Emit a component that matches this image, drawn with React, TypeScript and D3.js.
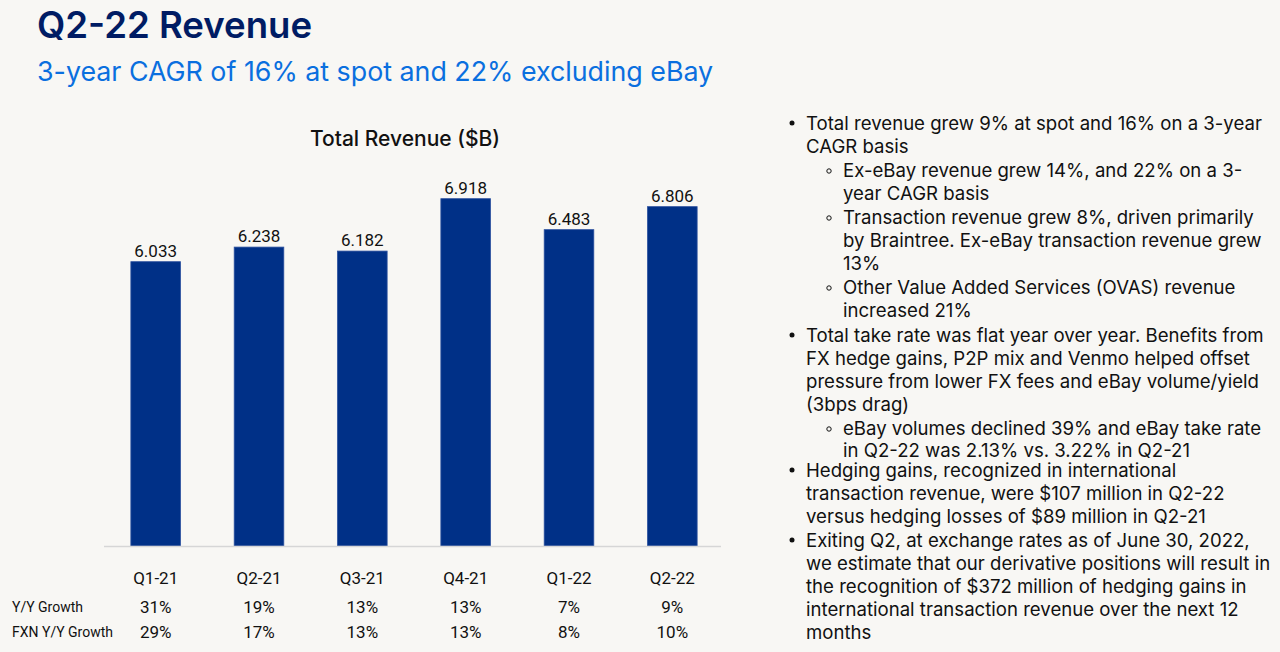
import React from "react";
import * as d3 from "d3";

const categories = ["Q1-21", "Q2-21", "Q3-21", "Q4-21", "Q1-22", "Q2-22"];
const revenue = [6.033, 6.238, 6.182, 6.918, 6.483, 6.806];
const yoyGrowth = ["31%", "19%", "13%", "13%", "7%", "9%"];
const fxnGrowth = ["29%", "17%", "13%", "13%", "8%", "10%"];
const rowLabels = ["Y/Y Growth", "FXN Y/Y Growth"];

const bulletLines: { level: number; bullet: boolean; text: string }[] = [
  { level: 0, bullet: true, text: "Total revenue grew 9% at spot and 16% on a 3-year" },
  { level: 0, bullet: false, text: "CAGR basis" },
  { level: 1, bullet: true, text: "Ex-eBay revenue grew 14%, and 22% on a 3-" },
  { level: 1, bullet: false, text: "year CAGR basis" },
  { level: 1, bullet: true, text: "Transaction revenue grew 8%, driven primarily" },
  { level: 1, bullet: false, text: "by Braintree. Ex-eBay transaction revenue grew" },
  { level: 1, bullet: false, text: "13%" },
  { level: 1, bullet: true, text: "Other Value Added Services (OVAS) revenue" },
  { level: 1, bullet: false, text: "increased 21%" },
  { level: 0, bullet: true, text: "Total take rate was flat year over year. Benefits from" },
  { level: 0, bullet: false, text: "FX hedge gains, P2P mix and Venmo helped offset" },
  { level: 0, bullet: false, text: "pressure from lower FX fees and eBay volume/yield" },
  { level: 0, bullet: false, text: "(3bps drag)" },
  { level: 1, bullet: true, text: "eBay volumes declined 39% and eBay take rate" },
  { level: 1, bullet: false, text: "in Q2-22 was 2.13% vs. 3.22% in Q2-21" },
  { level: 0, bullet: true, text: "Hedging gains, recognized in international" },
  { level: 0, bullet: false, text: "transaction revenue, were $107 million in Q2-22" },
  { level: 0, bullet: false, text: "versus hedging losses of $89 million in Q2-21" },
  { level: 0, bullet: true, text: "Exiting Q2, at exchange rates as of June 30, 2022," },
  { level: 0, bullet: false, text: "we estimate that our derivative positions will result in" },
  { level: 0, bullet: false, text: "the recognition of $372 million of hedging gains in" },
  { level: 0, bullet: false, text: "international transaction revenue over the next 12" },
  { level: 0, bullet: false, text: "months" },
];
const lineYs = [123, 146, 170, 193, 217, 240, 263, 287, 310, 335, 358, 381, 404, 428, 450, 470, 493, 516, 540, 563, 586, 609, 632];

const W = 1280;
const H = 652;
const FONT = "Inter, 'Open Sans', sans-serif";
const NUMFONT = "Roboto, 'Liberation Sans', sans-serif";

export default function App() {
  const baseline = 546;
  const x = d3.scaleBand<string>().domain(categories).range([104, 724]).paddingInner(0.52).paddingOuter(0.26);
  const y = d3.scaleLinear().domain([2.04, 7]).range([baseline, baseline - 71.2 * 4.96]);

  return (
    <svg width={W} height={H} style={{ position: "absolute", left: 0, top: 0, display: "block" }} fontFamily={FONT}>
      <rect width={W} height={H} fill="#f8f7f4" />
      <text x={37} y={38} fontSize={36.6} fontWeight={600} fill="#001c64">Q2-22 Revenue</text>
      <text x={37} y={81} fontSize={26.8} fill="#0a6fdf">3-year CAGR of 16% at spot and 22% excluding eBay</text>

      <text x={405} y={146} fontSize={21} fontWeight={500} fill="#111" textAnchor="middle">Total Revenue ($B)</text>

      {categories.map((c, i) => {
        const bx = x(c)!;
        const top = y(revenue[i]);
        const cx = bx + x.bandwidth() / 2;
        return (
          <g key={c}>
            <rect x={bx} y={top} width={x.bandwidth()} height={baseline - top} fill="#003087" stroke="#2a4f9e" strokeWidth={0.8} />
            <text x={cx} y={top - 5} fontSize={17} fontFamily={NUMFONT} fill="#111" textAnchor="middle">{d3.format(".3f")(revenue[i])}</text>
            <text x={cx} y={584} fontSize={17} fontFamily={NUMFONT} fill="#111" textAnchor="middle">{c}</text>
            <text x={cx} y={613} fontSize={17} fontFamily={NUMFONT} fill="#111" textAnchor="middle">{yoyGrowth[i]}</text>
            <text x={cx} y={638} fontSize={17} fontFamily={NUMFONT} fill="#111" textAnchor="middle">{fxnGrowth[i]}</text>
          </g>
        );
      })}
      <line x1={104} x2={721} y1={baseline + 0.5} y2={baseline + 0.5} stroke="#d6d6d6" strokeWidth={1.5} />
      <text x={12} y={612} fontSize={14} fontFamily={NUMFONT} fill="#111">{rowLabels[0]}</text>
      <text x={12} y={637} fontSize={14} fontFamily={NUMFONT} fill="#111">{rowLabels[1]}</text>

      {bulletLines.map((l, i) => {
        const ty = lineYs[i] + 6.5;
        const tx = l.level === 0 ? 806 : 843;
        return (
          <g key={i}>
            {l.bullet && l.level === 0 && <circle cx={792} cy={lineYs[i]} r={2.5} fill="#111" />}
            {l.bullet && l.level === 1 && <circle cx={829} cy={lineYs[i] + 1} r={2.2} fill="none" stroke="#111" strokeWidth={1} />}
            <text x={tx} y={ty} fontSize={18.6} fill="#111">{l.text}</text>
          </g>
        );
      })}
    </svg>
  );
}
